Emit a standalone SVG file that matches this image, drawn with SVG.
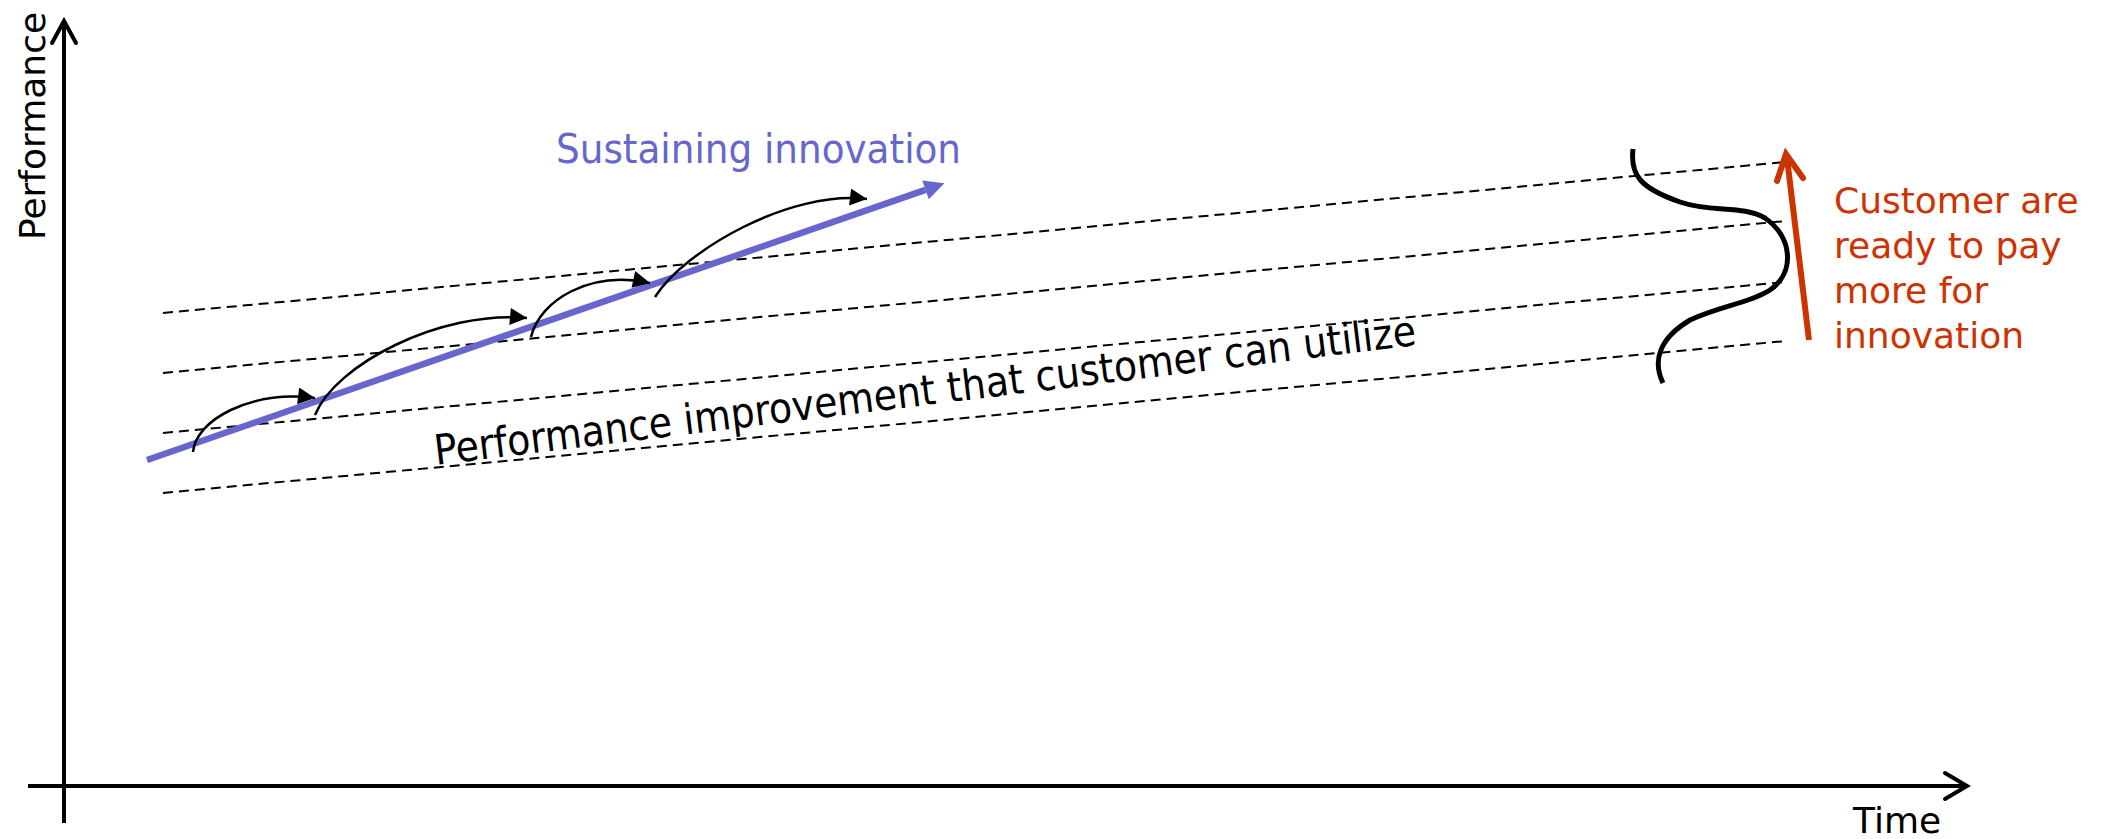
<svg xmlns="http://www.w3.org/2000/svg" width="2101" height="839" viewBox="0 0 2101 839">
  <defs>
    <style>
      .axis { stroke: #000; stroke-width: 4; fill: none; stroke-linecap: butt; }
      .chev { stroke: #000; stroke-width: 4; fill: none; stroke-linecap: round; stroke-linejoin: miter; }
      .dash { stroke: #000; stroke-width: 2; fill: none; stroke-dasharray: 10 6; }
      .hop { stroke: #000; stroke-width: 2.5; fill: none; }
      .label { font-family: "DejaVu Sans", Verdana, sans-serif; font-size: 36px; fill: #000; }
      .cond { font-family: "DejaVu Sans Condensed", "DejaVu Sans", sans-serif; }
      .band-text { font-size: 42px; }
      .red { fill: #cc3300; }
    </style>
    <marker id="tri" viewBox="0 0 10 10" refX="10" refY="5" markerWidth="20" markerHeight="17" markerUnits="userSpaceOnUse" orient="auto">
      <path d="M0,0 L10,5 L0,10 z" fill="#000"/>
    </marker>
    <marker id="triBlue" viewBox="0 0 10 10" refX="0" refY="5" markerWidth="24" markerHeight="20" markerUnits="userSpaceOnUse" orient="auto">
      <path d="M0,0 L10,5 L0,10 z" fill="#6666cc"/>
    </marker>
  </defs>

  <!-- axes -->
  <g id="axes">
    <line class="axis" x1="64" y1="823" x2="64" y2="22"/>
    <polyline class="chev" points="52,43 64,21 76,43"/>
    <line class="axis" x1="28" y1="786" x2="1966" y2="786"/>
    <polyline class="chev" points="1945,773 1967,786 1945,799"/>
    <text class="label" transform="translate(45,240) rotate(-90)">Performance</text>
    <text class="label" x="1853" y="833">Time</text>
  </g>

  <!-- band of customer-usable performance -->
  <g id="utilization-band">
    <line class="dash" x1="163" y1="313" x2="1785" y2="162"/>
    <line class="dash" x1="163" y1="373" x2="1786" y2="221"/>
    <line class="dash" x1="163" y1="433" x2="1786" y2="282"/>
    <line class="dash" x1="163" y1="493" x2="1786" y2="341"/>
    <text class="label cond band-text" transform="translate(436,465) rotate(-6.97)">Performance improvement that customer can utilize</text>
  </g>

  <!-- sustaining innovation trajectory -->
  <g id="sustaining">
    <line x1="147" y1="460" x2="925.5" y2="189.9" stroke="#6666cc" stroke-width="6.5" marker-end="url(#triBlue)"/>
    <text class="cond" x="556" y="163" font-size="41.5" fill="#6666cc">Sustaining innovation</text>
  </g>

  <!-- successive product steps -->
  <g id="connectors">
    <path class="hop" d="M193,452 C196,420 250,390 315,398" marker-end="url(#tri)"/>
    <path class="hop" d="M315,415 C335,365 440,310 527,318" marker-end="url(#tri)"/>
    <path class="hop" d="M531,337 C540,300 590,270 650,283" marker-end="url(#tri)"/>
    <path class="hop" d="M655,297 C685,250 790,190 867,199" marker-end="url(#tri)"/>
  </g>

  <!-- customer distribution curve -->
  <g id="distribution">
    <path d="M1633,149 C1630,175 1640,188 1680,202 C1712,213 1742,205 1765,218 C1792,236 1796,272 1770,290 C1750,303 1720,306 1690,320 C1660,338 1652,360 1663,383" stroke="#000" stroke-width="5" fill="none"/>
  </g>

  <!-- willingness to pay -->
  <g id="willingness">
    <line x1="1809" y1="340" x2="1787" y2="158" stroke="#cc3300" stroke-width="6"/>
    <polyline points="1777,181 1786,154 1803,178" stroke="#cc3300" stroke-width="6" fill="none" stroke-linecap="round"/>
    <text class="label red">
      <tspan x="1834" y="213">Customer are</tspan>
      <tspan x="1834" y="258">ready to pay</tspan>
      <tspan x="1834" y="303">more for</tspan>
      <tspan x="1834" y="348">innovation</tspan>
    </text>
  </g>
</svg>
